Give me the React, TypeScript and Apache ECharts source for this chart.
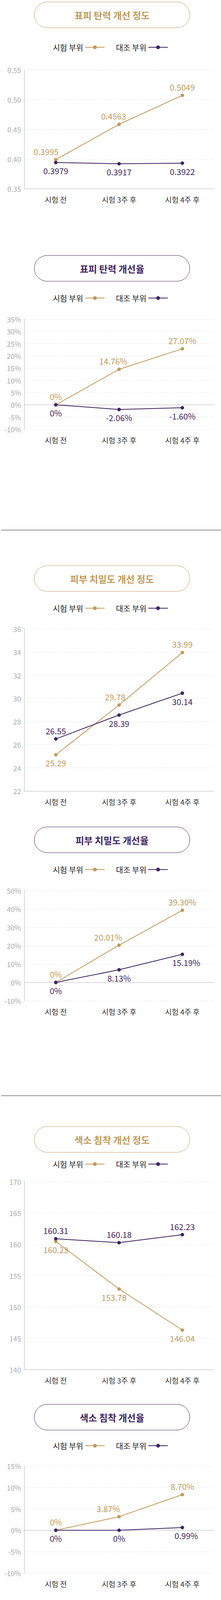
import { useEffect, useRef } from "react";
import * as echarts from "echarts";

const GOLD = "#c19a5c";
const PURPLE = "#40245f";
const FONT = "'Noto Sans CJK KR', 'Noto Sans', sans-serif";

const categories = ["시험 전", "시험 3주 후", "시험 4주 후"];
const legendNames = ["시험 부위", "대조 부위"];

// 표피 탄력 개선 정도
const elasticTest = [0.3989, 0.4584, 0.5072];
const elasticTestLabels = ["0.3995", "0.4563", "0.5049"];
const elasticCtrl = [0.394, 0.392, 0.393];
const elasticCtrlLabels = ["0.3979", "0.3917", "0.3922"];

// 표피 탄력 개선율
const elasticRateTest = [0, 14.5, 22.9];
const elasticRateTestLabels = ["0%", "14.76%", "27.07%"];
const elasticRateCtrl = [0, -1.9, -1.2];
const elasticRateCtrlLabels = ["0%", "-2.06%", "-1.60%"];

// 피부 치밀도 개선 정도
const densityTest = [25.13, 29.43, 33.96];
const densityTestLabels = ["25.29", "29.78", "33.99"];
const densityCtrl = [26.5, 28.56, 30.45];
const densityCtrlLabels = ["26.55", "28.39", "30.14"];

// 피부 치밀도 개선율
const densityRateTest = [0, 20.3, 39.3];
const densityRateTestLabels = ["0%", "20.01%", "39.30%"];
const densityRateCtrl = [0, 6.9, 15.3];
const densityRateCtrlLabels = ["0%", "8.13%", "15.19%"];

// 색소 침착 개선 정도
const pigmentTest = [160.44, 152.85, 146.3];
const pigmentTestLabels = ["160.23", "153.78", "146.04"];
const pigmentCtrl = [160.88, 160.26, 161.54];
const pigmentCtrlLabels = ["160.31", "160.18", "162.23"];

// 색소 침착 개선율
const pigmentRateTest = [0, 3.17, 8.32];
const pigmentRateTestLabels = ["0%", "3.87%", "8.70%"];
const pigmentRateCtrl = [0, 0, 0.63];
const pigmentRateCtrlLabels = ["0%", "0%", "0.99%"];

type Pos = [string, number, number]; // position, dx, dy

const charts = [
  {
    title: "표피 탄력 개선 정도", color: GOLD, pill: 5, legend: 118, top: 179, bottom: 483,
    min: 0.35, max: 0.55, interval: 0.05, fmt: (v: number) => v.toFixed(2),
    test: elasticTest, testLabels: elasticTestLabels, ctrl: elasticCtrl, ctrlLabels: elasticCtrlLabels,
    testPos: [["top", -25, 0], ["top", -14, 0], ["top", 0, 0]] as Pos[],
    ctrlPos: [["bottom", 0, 0], ["bottom", 0, 0], ["bottom", 0, 0]] as Pos[],
  },
  {
    title: "표피 탄력 개선율", color: PURPLE, pill: 654, legend: 760, top: 817, bottom: 1099,
    min: -10, max: 35, interval: 5, fmt: (v: number) => v + "%",
    test: elasticRateTest, testLabels: elasticRateTestLabels, ctrl: elasticRateCtrl, ctrlLabels: elasticRateCtrlLabels,
    testPos: [["top", 0, 0], ["top", -15, 0], ["top", 0, 0]] as Pos[],
    ctrlPos: [["bottom", 0, 0], ["bottom", 0, 0], ["bottom", 0, 0]] as Pos[],
  },
  {
    title: "피부 치밀도 개선 정도", color: GOLD, pill: 1448, legend: 1554, top: 1610, bottom: 2025,
    min: 22, max: 36, interval: 2, fmt: (v: number) => String(v),
    test: densityTest, testLabels: densityTestLabels, ctrl: densityCtrl, ctrlLabels: densityCtrlLabels,
    testPos: [["bottom", 0, 0], ["top", -10, 0], ["top", 0, 0]] as Pos[],
    ctrlPos: [["top", 0, 0], ["bottom", 0, 0], ["bottom", 0, 0]] as Pos[],
  },
  {
    title: "피부 치밀도 개선율", color: PURPLE, pill: 2117, legend: 2223, top: 2280, bottom: 2562,
    min: -10, max: 50, interval: 10, fmt: (v: number) => v + "%",
    test: densityRateTest, testLabels: densityRateTestLabels, ctrl: densityRateCtrl, ctrlLabels: densityRateCtrlLabels,
    testPos: [["top", 0, 0], ["top", -28, 0], ["top", 0, 0]] as Pos[],
    ctrlPos: [["bottom", 0, 0], ["bottom", 0, 0], ["bottom", 10, 0]] as Pos[],
  },
  {
    title: "색소 침착 개선 정도", color: GOLD, pill: 2884, legend: 2977, top: 3025, bottom: 3506,
    min: 140, max: 170, interval: 5, fmt: (v: number) => String(v),
    test: pigmentTest, testLabels: pigmentTestLabels, ctrl: pigmentCtrl, ctrlLabels: pigmentCtrlLabels,
    testPos: [["bottom", 0, 0], ["bottom", -13, 0], ["bottom", 0, 0]] as Pos[],
    ctrlPos: [["top", 0, 0], ["top", 0, 0], ["top", 0, 0]] as Pos[],
  },
  {
    title: "색소 침착 개선율", color: PURPLE, pill: 3595, legend: 3698, top: 3753, bottom: 4027,
    min: -10, max: 15, interval: 5, fmt: (v: number) => v + "%",
    test: pigmentRateTest, testLabels: pigmentRateTestLabels, ctrl: pigmentRateCtrl, ctrlLabels: pigmentRateCtrlLabels,
    testPos: [["top", 0, 0], ["top", -28, 0], ["top", 0, 0]] as Pos[],
    ctrlPos: [["bottom", 0, 0], ["bottom", 0, 0], ["bottom", 10, 0]] as Pos[],
  },
];

const dividers = [1357, 2805];

function points(vals: number[], labels: string[], pos: Pos[], color: string) {
  return vals.map((v, i) => ({
    value: v,
    label: {
      show: true,
      position: pos[i][0],
      offset: [pos[i][1], pos[i][2]],
      formatter: labels[i],
      color,
      fontSize: 21,
      fontFamily: FONT,
      distance: 6,
    },
  }));
}

export default function App() {
  const ref = useRef<HTMLDivElement | null>(null);

  useEffect(() => {
    document.body.style.margin = "0";
    if (!ref.current) return;
    const chart = echarts.init(ref.current, null, { renderer: "svg" });

    const graphic: any[] = [];
    charts.forEach((c) => {
      graphic.push({
        type: "rect",
        shape: { x: 88, y: c.pill, width: 399, height: 66, r: 33 },
        style: { fill: "#fff", stroke: c.color, lineWidth: 1 },
      });
      graphic.push({
        type: "text",
        x: 287.5,
        y: c.pill + 33,
        style: {
          text: c.title, fill: c.color, font: `bold 24px ${FONT}`,
          align: "center", verticalAlign: "middle",
        },
      });
    });
    dividers.forEach((y) => {
      graphic.push({
        type: "line",
        shape: { x1: 3, y1: y, x2: 567, y2: y },
        style: { stroke: "#222", lineWidth: 1 },
      });
    });

    const option: any = {
      animation: false,
      backgroundColor: "#fff",
      graphic,
      legend: charts.map((c) => ({
        top: c.legend - 12,
        left: "center",
        data: legendNames,
        align: "right",
        itemWidth: 50,
        itemHeight: 12,
        itemGap: 28,
        selectedMode: false,
        textStyle: { fontSize: 20, color: "#222", fontFamily: FONT },
      })),
      grid: charts.map((c) => ({
        left: 62, right: 18, top: c.top, height: c.bottom - c.top,
      })),
      xAxis: charts.map((c, i) => ({
        type: "category",
        gridIndex: i,
        data: categories,
        axisLine: { lineStyle: { color: "#b5b5b5" } },
        axisTick: { show: false },
        axisLabel: { fontSize: 19, color: "#333", fontFamily: FONT, margin: 18 },
      })),
      yAxis: charts.map((c, i) => ({
        type: "value",
        gridIndex: i,
        min: c.min,
        max: c.max,
        interval: c.interval,
        axisLine: { show: true, lineStyle: { color: "#b5b5b5" } },
        axisTick: { show: false },
        axisLabel: {
          fontSize: 18, color: "#aaa", fontFamily: FONT, margin: 8,
          formatter: (v: number) => c.fmt(Math.round(v * 100) / 100),
        },
        splitLine: { lineStyle: { color: "#e6e6e6", type: "dashed" } },
      })),
      series: charts.flatMap((c, i) => [
        {
          type: "line", name: legendNames[0], xAxisIndex: i, yAxisIndex: i,
          data: points(c.test, c.testLabels, c.testPos, GOLD),
          symbol: "circle", symbolSize: 9,
          itemStyle: { color: GOLD }, lineStyle: { color: GOLD, width: 2 },
        },
        {
          type: "line", name: legendNames[1], xAxisIndex: i, yAxisIndex: i,
          data: points(c.ctrl, c.ctrlLabels, c.ctrlPos, PURPLE),
          symbol: "circle", symbolSize: 9,
          itemStyle: { color: PURPLE }, lineStyle: { color: PURPLE, width: 2 },
        },
      ]),
    };

    chart.setOption(option);
    return () => chart.dispose();
  }, []);

  return <div ref={ref} style={{ width: 567, height: 4221 }} />;
}
